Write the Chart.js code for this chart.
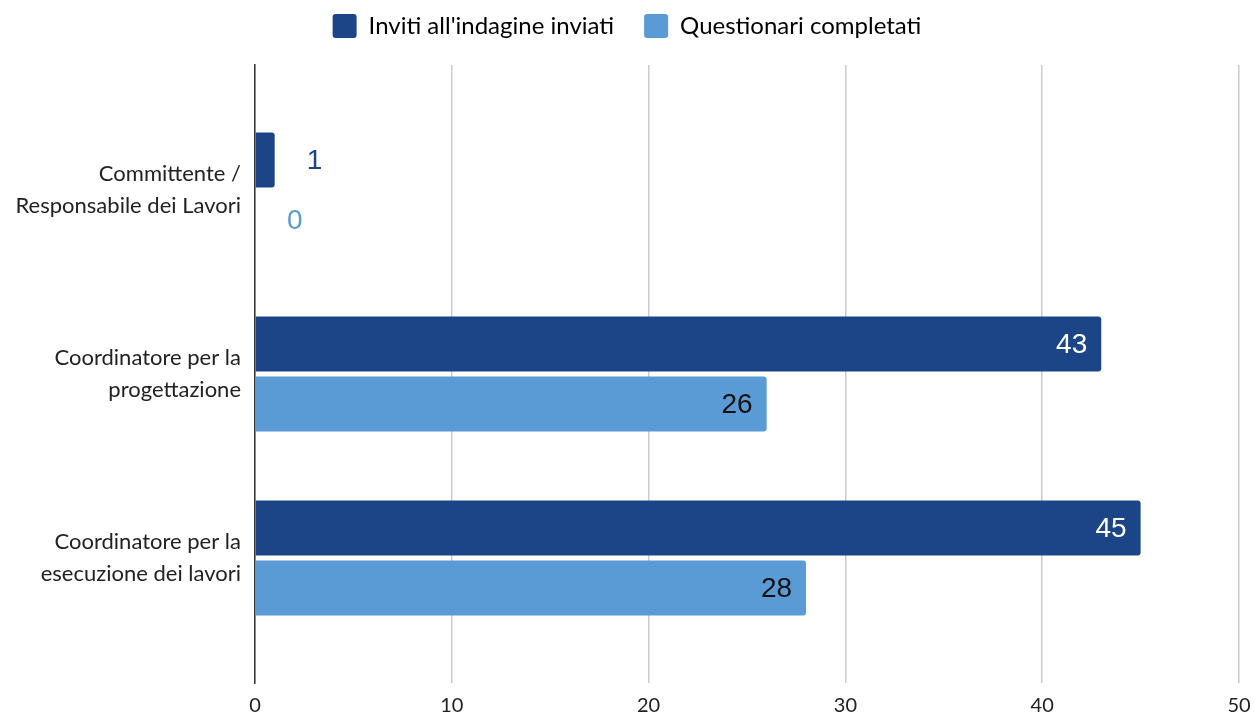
<!DOCTYPE html>
<html>
<head>
    <title>Inviti e questionari</title>
    <script src="https://cdn.jsdelivr.net/npm/chart.js"></script>
    <style>
        html, body { margin: 0; padding: 0; background: #fff; }
        #wrap { width: 1254px; height: 715px; }
    </style>
</head>
<body>
    <div id="wrap"><canvas id="roleChart"></canvas></div>

    <script>
        const categories = [
            ['Committente /', 'Responsabile dei Lavori'],
            ['Coordinatore per la', 'progettazione'],
            ['Coordinatore per la', 'esecuzione dei lavori']
        ];
        const invitesSent = [1, 43, 45];
        const surveysDone = [0, 26, 28];
        const xTicks = [0, 10, 20, 30, 40, 50];

        const DARK = '#1c4587';
        const LIGHT = '#5b9bd5';
        const FONT = 'Lato, "Open Sans", sans-serif';

        const LEGEND_PAD = 30;
        const PAD_TOP = 14 - LEGEND_PAD;
        const AREA_TOP = 65;

        // value labels: inside the bar end when it fits, else outside in bar colour
        const valueLabels = {
            id: 'valueLabels',
            afterInit(chart) {
                // legend takes the space down to the plot top
                const legend = chart.legend;
                const fit = legend.fit;
                legend.fit = function () {
                    fit.call(this);
                    this.height = AREA_TOP - PAD_TOP;
                };
            },
            afterDatasetsDraw(chart) {
                const ctx = chart.ctx;
                ctx.save();
                ctx.font = '28px "Liberation Sans", Arial, sans-serif';
                ctx.textBaseline = 'middle';
                chart.data.datasets.forEach((ds, di) => {
                    const meta = chart.getDatasetMeta(di);
                    meta.data.forEach((bar, i) => {
                        const v = ds.data[i].x;
                        const txt = String(v);
                        const w = ctx.measureText(txt).width;
                        const len = bar.x - bar.base;
                        if (len > w + 28) {
                            ctx.textAlign = 'right';
                            ctx.fillStyle = di === 0 ? '#ffffff' : '#111111';
                            ctx.fillText(txt, bar.x - 14, bar.y + 1);
                        } else {
                            ctx.textAlign = 'left';
                            ctx.fillStyle = ds.backgroundColor;
                            ctx.fillText(txt, bar.x + 32, bar.y + 1);
                        }
                    });
                });
                ctx.restore();
            }
        };

        const toPoints = arr => arr.map((v, i) => ({ x: v, y: i }));

        new Chart(document.getElementById('roleChart'), {
            type: 'bar',
            data: {
                datasets: [{
                    label: "Inviti all'indagine inviati",
                    data: toPoints(invitesSent),
                    backgroundColor: DARK,
                    borderRadius: 3,
                    categoryPercentage: 0.652,
                    barPercentage: 0.917
                }, {
                    label: 'Questionari completati',
                    data: toPoints(surveysDone),
                    backgroundColor: LIGHT,
                    borderRadius: 3,
                    categoryPercentage: 0.652,
                    barPercentage: 0.917
                }]
            },
            options: {
                indexAxis: 'y',
                responsive: true,
                maintainAspectRatio: false,
                animation: false,
                layout: { padding: { left: 0, right: 0, top: PAD_TOP, bottom: 0 } },
                plugins: {
                    legend: {
                        position: 'top',
                        labels: {
                            boxWidth: 24,
                            boxHeight: 24,
                            padding: LEGEND_PAD,
                            color: '#222',
                            font: { family: FONT, size: 24 },
                            useBorderRadius: true,
                            borderRadius: 3,
                            generateLabels(chart) {
                                return chart.data.datasets.map((ds, i) => ({
                                    text: ds.label,
                                    fillStyle: ds.backgroundColor,
                                    strokeStyle: ds.backgroundColor,
                                    lineWidth: 0,
                                    borderRadius: 3,
                                    datasetIndex: i,
                                    hidden: false
                                }));
                            }
                        }
                    },
                    tooltip: { enabled: false }
                },
                scales: {
                    x: {
                        min: 0,
                        max: 50,
                        afterBuildTicks(scale) {
                            scale.ticks = xTicks.map(v => ({ value: v }));
                        },
                        afterFit(scale) {
                            scale.height = 32;
                            scale.paddingRight = 15;
                            scale.paddingLeft = 0;
                        },
                        grid: {
                            color: '#cccccc',
                            lineWidth: 1.5,
                            drawTicks: false
                        },
                        border: { display: false },
                        ticks: {
                            padding: 11,
                            color: '#222',
                            font: { family: FONT, size: 20 }
                        }
                    },
                    y: {
                        type: 'linear',
                        reverse: true,
                        offset: false,
                        min: -0.68,
                        max: 2.68,
                        afterBuildTicks(scale) {
                            scale.ticks = categories.map((c, i) => ({ value: i }));
                        },
                        afterFit(scale) {
                            scale.width = 255;
                            scale.paddingTop = 0;
                            scale.paddingBottom = 0;
                        },
                        grid: { display: false, drawTicks: false, offset: false },
                        border: { display: true, color: '#333333', width: 1.5 },
                        ticks: {
                            padding: 14,
                            color: '#222',
                            font: { family: FONT, size: 22, lineHeight: 1.45 },
                            callback: (v) => categories[v]
                        }
                    }
                }
            },
            plugins: [valueLabels]
        });
    </script>
</body>
</html>
